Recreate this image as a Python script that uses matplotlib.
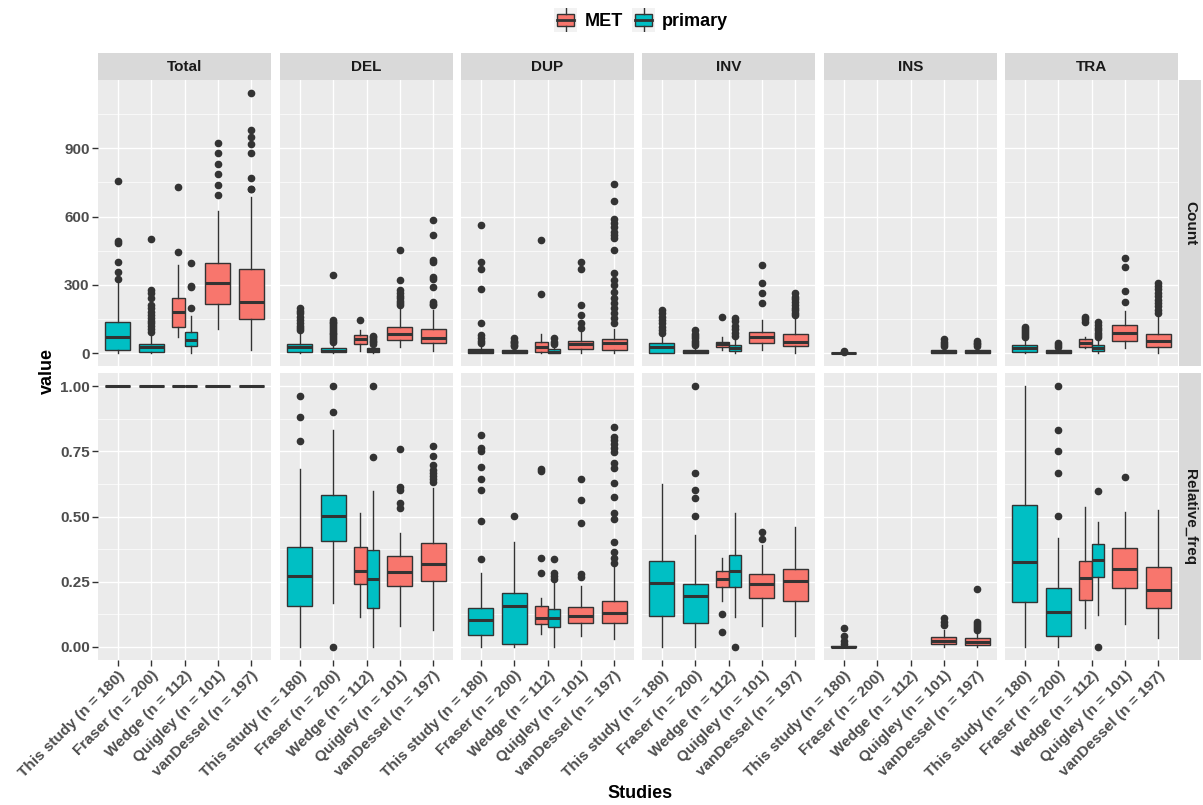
import matplotlib
matplotlib.use('Agg')
import matplotlib.pyplot as plt
from matplotlib.patches import Rectangle

plt.rcParams['font.family'] = ['Liberation Sans', 'DejaVu Sans']
plt.rcParams['font.weight'] = 'bold'

# categories
studies = ['This study (n = 180)', 'Fraser (n = 200)', 'Wedge (n = 112)',
           'Quigley (n = 101)', 'vanDessel (n = 197)']
sv_types = ['Total', 'DEL', 'DUP', 'INV', 'INS', 'TRA']
rows = ['Count', 'Relative_freq']
groups = ['MET', 'primary']
group_colors = {'MET': '#F8766D', 'primary': '#00BFC4'}

# box stats:
# (study index, group, whisker low, q1, median, q3, whisker high, outliers)
count_total = [
    (0, 'primary', 0, 13, 72, 136, 310, [325, 357, 401, 485, 492, 755]),
    (1, 'primary', 0, 6, 25, 40, 88, [94, 105, 118, 130, 142, 155, 168, 182, 196, 210, 240, 262, 277, 500]),
    (2, 'MET', 72, 116, 179, 240, 386, [442, 730]),
    (2, 'primary', 0, 32, 57, 94, 162, [196, 289, 294, 394]),
    (3, 'MET', 104, 215, 306, 394, 625, [694, 738, 789, 830, 877, 924]),
    (4, 'MET', 13, 148, 225, 370, 684, [719, 723, 770, 881, 918, 950, 982, 1143]),
]
count_del = [
    (0, 'primary', 0, 3, 25, 40, 90, [101, 110, 120, 130, 145, 160, 175, 185, 197]),
    (1, 'primary', 0, 3, 10, 20, 45, [50, 58, 66, 74, 82, 90, 98, 106, 114, 122, 130, 138, 145, 341]),
    (2, 'MET', 10, 40, 61, 79, 101, [145]),
    (2, 'primary', 0, 6, 12, 20, 35, [40, 48, 55, 62, 70, 75]),
    (3, 'MET', 28, 57, 83, 116, 204, [211, 220, 230, 240, 250, 262, 277, 321, 455]),
    (4, 'MET', 10, 45, 67, 105, 189, [210, 215, 225, 291, 326, 335, 400, 408, 518, 584]),
]
count_dup = [
    (0, 'primary', 0, 0, 9, 17, 40, [45, 55, 65, 79, 130, 280, 369, 401, 562]),
    (1, 'primary', 0, 0, 4, 13, 25, [30, 36, 42, 48, 55, 64]),
    (2, 'MET', 0, 6, 25, 50, 82, [259, 496]),
    (2, 'primary', 0, 0, 5, 16, 35, [40, 50, 64]),
    (3, 'MET', 0, 18, 40, 53, 100, [108, 130, 167, 211, 369, 401]),
    (4, 'MET', 0, 13, 42, 60, 104, [130, 152, 174, 196, 218, 240, 269, 299, 321, 350, 455,
                                   504, 518, 533, 555, 572, 591, 669, 742]),
]
count_inv = [
    (0, 'primary', 0, 1, 25, 43, 80, [86, 100, 115, 130, 145, 160, 175, 189]),
    (1, 'primary', 0, 0, 6, 13, 30, [35, 45, 55, 65, 75, 85, 101]),
    (2, 'MET', 13, 28, 40, 50, 72, [160]),
    (2, 'primary', 0, 9, 21, 35, 65, [75, 90, 105, 120, 140, 155]),
    (3, 'MET', 13, 45, 72, 94, 145, [218, 262, 306, 386]),
    (4, 'MET', 0, 31, 50, 82, 158, [167, 178, 190, 200, 212, 224, 236, 248, 262]),
]
count_ins = [
    (0, 'primary', 0, 0, 1, 2, 4, [6, 9]),
    (3, 'MET', 0, 1, 6, 13, 25, [32, 40, 50, 61]),
    (4, 'MET', 0, 1, 5, 12, 24, [30, 38, 46, 54]),
]
count_tra = [
    (0, 'primary', 0, 3, 21, 35, 65, [72, 80, 88, 96, 104, 116]),
    (1, 'primary', 0, 0, 6, 13, 20, [28, 36, 45]),
    (2, 'MET', 21, 25, 42, 60, 72, [138, 150, 160]),
    (2, 'primary', 0, 9, 21, 35, 60, [70, 80, 90, 100, 110, 125, 138]),
    (3, 'MET', 21, 54, 86, 123, 184, [223, 272, 376, 416]),
    (4, 'MET', 0, 28, 54, 82, 160, [175, 190, 205, 220, 235, 250, 265, 280, 295, 309]),
]

rel_total = [
    (0, 'primary', 1, 1, 1, 1, 1, []),
    (1, 'primary', 1, 1, 1, 1, 1, []),
    (2, 'MET', 1, 1, 1, 1, 1, []),
    (2, 'primary', 1, 1, 1, 1, 1, []),
    (3, 'MET', 1, 1, 1, 1, 1, []),
    (4, 'MET', 1, 1, 1, 1, 1, []),
]
rel_del = [
    (0, 'primary', 0.0, 0.157, 0.273, 0.384, 0.681, [0.790, 0.880, 0.963]),
    (1, 'primary', 0.170, 0.407, 0.502, 0.582, 0.831, [0.0, 0.899, 1.0]),
    (2, 'MET', 0.116, 0.241, 0.291, 0.382, 0.515, []),
    (2, 'primary', 0.0, 0.151, 0.262, 0.372, 0.599, [0.727, 1.0]),
    (3, 'MET', 0.080, 0.235, 0.286, 0.350, 0.435, [0.531, 0.550, 0.601, 0.612, 0.759]),
    (4, 'MET', 0.065, 0.253, 0.317, 0.400, 0.608, [0.634, 0.645, 0.656, 0.667, 0.678, 0.697, 0.732, 0.770]),
]
rel_dup = [
    (0, 'primary', 0.0, 0.046, 0.103, 0.151, 0.285, [0.336, 0.484, 0.601, 0.644, 0.689, 0.751, 0.761, 0.812]),
    (1, 'primary', 0.0, 0.011, 0.157, 0.208, 0.401, [0.502]),
    (2, 'MET', 0.050, 0.088, 0.112, 0.157, 0.186, [0.282, 0.340, 0.674, 0.681]),
    (2, 'primary', 0.0, 0.075, 0.112, 0.146, 0.250, [0.262, 0.272, 0.285, 0.336]),
    (3, 'MET', 0.042, 0.090, 0.119, 0.154, 0.234, [0.269, 0.280, 0.474, 0.563, 0.642]),
    (4, 'MET', 0.029, 0.093, 0.131, 0.176, 0.308, [0.321, 0.342, 0.365, 0.401, 0.490, 0.512, 0.574, 0.627,
                                                   0.684, 0.706, 0.748, 0.761, 0.778, 0.793, 0.806, 0.842]),
]
rel_inv = [
    (0, 'primary', 0.0, 0.119, 0.244, 0.331, 0.623, []),
    (1, 'primary', 0.0, 0.091, 0.195, 0.240, 0.429, [0.502, 0.572, 0.601, 0.668, 1.0]),
    (2, 'MET', 0.177, 0.228, 0.262, 0.292, 0.340, [0.056, 0.126]),
    (2, 'primary', 0.114, 0.231, 0.291, 0.352, 0.515, [0.0]),
    (3, 'MET', 0.080, 0.189, 0.240, 0.280, 0.391, [0.414, 0.442]),
    (4, 'MET', 0.042, 0.176, 0.254, 0.298, 0.458, []),
]
rel_ins = [
    (0, 'primary', 0.0, 0.0, 0.0, 0.003, 0.006, [0.012, 0.024, 0.043, 0.074]),
    (3, 'MET', 0.0, 0.011, 0.024, 0.039, 0.065, [0.084, 0.095, 0.110]),
    (4, 'MET', 0.0, 0.008, 0.020, 0.033, 0.061, [0.065, 0.072, 0.080, 0.088, 0.095, 0.221]),
]
rel_tra = [
    (0, 'primary', 0.0, 0.174, 0.324, 0.544, 1.0, []),
    (1, 'primary', 0.0, 0.043, 0.135, 0.225, 0.416, [0.502, 0.665, 0.751, 0.831, 1.0]),
    (2, 'MET', 0.074, 0.180, 0.266, 0.331, 0.538, []),
    (2, 'primary', 0.123, 0.270, 0.335, 0.395, 0.480, [0.0, 0.598]),
    (3, 'MET', 0.087, 0.225, 0.298, 0.380, 0.518, [0.650]),
    (4, 'MET', 0.033, 0.151, 0.218, 0.308, 0.525, []),
]

count_panels = [count_total, count_del, count_dup, count_inv, count_ins, count_tra]
rel_panels = [rel_total, rel_del, rel_dup, rel_inv, rel_ins, rel_tra]

count_ticks = [0, 300, 600, 900]
count_minor = [150, 450, 750, 1050]
rel_ticks = [0.0, 0.25, 0.50, 0.75, 1.00]
rel_tick_labels = ['0.00', '0.25', '0.50', '0.75', '1.00']
rel_minor = [0.125, 0.375, 0.625, 0.875]

# layout in pixels
W, H = 1203, 805
col_left = [98, 280, 461, 642, 824, 1005]
col_w = 173
row_top = [80, 373]
row_h = [286, 287]

ink = '#333333'

fig = plt.figure(figsize=(W / 100, H / 100), dpi=100)


def px_axes(x0, y0, w, h):
    return fig.add_axes([x0 / W, 1 - (y0 + h) / H, w / W, h / H])


def draw_panel(ax, boxes):
    for study, grp, lo, q1, med, q3, hi, fl in boxes:
        n_here = sum(1 for b in boxes if b[0] == study)
        if n_here > 1:
            width = 0.75 / n_here
            pos = study + 1 + (groups.index(grp) - 0.5) * width
        else:
            width = 0.75
            pos = study + 1
        stats = [dict(whislo=lo, q1=q1, med=med, q3=q3, whishi=hi, fliers=fl)]
        ax.bxp(stats, positions=[pos], widths=[width], patch_artist=True,
               showcaps=False, manage_ticks=False,
               boxprops=dict(facecolor=group_colors[grp], edgecolor=ink, linewidth=1.0),
               medianprops=dict(color=ink, linewidth=2.2),
               whiskerprops=dict(color=ink, linewidth=1.0),
               flierprops=dict(marker='o', markerfacecolor=ink, markeredgecolor=ink,
                               markersize=4.5, linestyle='none'))


for r in range(2):
    for c in range(6):
        ax = px_axes(col_left[c], row_top[r], col_w, row_h[r])
        ax.set_facecolor('#EBEBEB')
        for s in ax.spines.values():
            s.set_visible(False)
        ax.set_axisbelow(True)
        ax.set_xlim(0.4, 5.6)
        if r == 0:
            ax.set_ylim(-57, 1200)
            ax.set_yticks(count_ticks)
            ax.set_yticks(count_minor, minor=True)
            ax.set_yticklabels([str(t) for t in count_ticks])
            draw_panel(ax, count_panels[c])
        else:
            ax.set_ylim(-0.05, 1.05)
            ax.set_yticks(rel_ticks)
            ax.set_yticks(rel_minor, minor=True)
            ax.set_yticklabels(rel_tick_labels)
            draw_panel(ax, rel_panels[c])
        ax.set_xticks(range(1, 6))
        ax.grid(which='major', color='white', linewidth=1.0)
        ax.grid(which='minor', axis='y', color='white', linewidth=0.5)
        ax.tick_params(which='minor', length=0)
        ax.tick_params(axis='both', which='major', length=4, width=1, color=ink,
                       labelcolor='#4D4D4D', labelsize=11, pad=2)
        if c > 0:
            ax.tick_params(axis='y', which='major', length=0, labelleft=False)
        if r == 0:
            ax.tick_params(axis='x', which='major', length=0, labelbottom=False)
        else:
            ax.set_xticklabels(studies, rotation=45, ha='right', va='top',
                               rotation_mode='anchor')

# top strips
for c in range(6):
    sax = px_axes(col_left[c], 53, col_w, 27)
    sax.set_facecolor('#D9D9D9')
    sax.set_xticks([])
    sax.set_yticks([])
    for s in sax.spines.values():
        s.set_visible(False)
    sax.text(0.5, 0.47, sv_types[c], ha='center', va='center', fontsize=11,
             color='#1A1A1A', transform=sax.transAxes)

# right strips
for r in range(2):
    sax = px_axes(1179, row_top[r], 22, row_h[r])
    sax.set_facecolor('#D9D9D9')
    sax.set_xticks([])
    sax.set_yticks([])
    for s in sax.spines.values():
        s.set_visible(False)
    sax.text(0.5, 0.5, rows[r], ha='center', va='center', rotation=-90, fontsize=11,
             color='#1A1A1A', transform=sax.transAxes)

# axis titles
fig.text(47 / W, 1 - 371 / H, 'value', rotation=90, ha='center', va='center', fontsize=13,
         color='black')
fig.text(640 / W, 1 - 793 / H, 'Studies', ha='center', va='center', fontsize=13, color='black')

# legend
for key_x, grp, label_x in [(554, 'MET', 585), (632, 'primary', 662)]:
    kax = px_axes(key_x, 8, 23, 24)
    kax.set_facecolor('#F2F2F2')
    kax.set_xlim(0, 1)
    kax.set_ylim(0, 1)
    kax.set_xticks([])
    kax.set_yticks([])
    for s in kax.spines.values():
        s.set_visible(False)
    kax.add_patch(Rectangle((0.12, 0.25), 0.76, 0.5, facecolor=group_colors[grp],
                            edgecolor=ink, linewidth=1.0))
    kax.plot([0.12, 0.88], [0.5, 0.5], color=ink, linewidth=2)
    kax.plot([0.5, 0.5], [0.0, 0.25], color=ink, linewidth=1)
    kax.plot([0.5, 0.5], [0.75, 1.0], color=ink, linewidth=1)
    fig.text(label_x / W, 1 - 21 / H, grp, ha='left', va='center', fontsize=13, color='black')

plt.savefig('out.png', dpi=100, facecolor='white')
